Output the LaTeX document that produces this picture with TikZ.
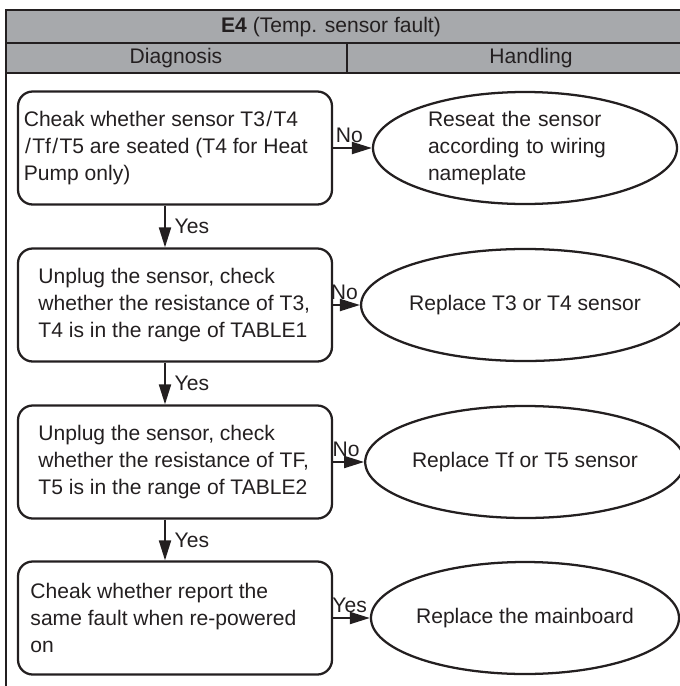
\documentclass[tikz,border=0pt]{standalone}
\usepackage{fontspec}
\setmainfont{Liberation Sans}
\usepackage{tikz}
\usetikzlibrary{arrows.meta,shapes.geometric}
\definecolor{ink}{HTML}{231F20}
\definecolor{headgray}{HTML}{A7A9AC}
\newcommand{\sensl}{\kern1pt/\kern1pt}

\begin{document}
\begin{tikzpicture}[x=0.75pt,y=-0.75pt,font=\fontsize{15.8pt}{20.5pt}\selectfont,text=ink,
  diag/.style={rectangle,rounded corners=11pt,draw=ink,line width=1.7pt,minimum width=235.5pt,minimum height=84.75pt,inner sep=0pt},
  diagtext/.style={anchor=west,align=left,inner sep=0pt},
  hand/.style={ellipse,draw=ink,line width=1.7pt,minimum width=228pt,minimum height=84pt,inner sep=0pt,align=center},
  flow/.style={-{Triangle[length=15pt,width=9pt]},draw=ink,line width=1.5pt},
  lbl/.style={inner sep=3.5pt}]
\useasboundingbox (0,0) rectangle (680,686);
% header rows
\fill[headgray] (5,10) rectangle (680,73);
\draw[ink,line width=1.6pt] (5,10) -- (680,10) (5,43) -- (680,43) (5,73) -- (680,73) (347,43) -- (347,73);
\draw[ink,line width=1.6pt] (6,10) -- (6,686);
\node (title) at (331,27) {\textbf{E4} (Temp. sensor fault)};
\node (coldiag) at (176,58) {Diagnosis};
\node (colhand) at (531,58) {Handling};
% diagnosis steps
\node[diag] (d1) at (175,148) {};
\node[diagtext] (t1) at ([xshift=5pt]d1.west) {Cheak whether sensor T3\sensl T4\\\sensl Tf\sensl T5 are seated (T4 for Heat\\Pump only)};
\node[diag] (d2) at (175,305) {};
\node[diagtext] (t2) at ([xshift=16pt]d2.west) {Unplug the sensor, check\\whether the resistance of T3,\\T4 is in the range of TABLE1};
\node[diag] (d3) at (175,462) {};
\node[diagtext] (t3) at ([xshift=16pt]d3.west) {Unplug the sensor, check\\whether the resistance of TF,\\T5 is in the range of TABLE2};
\node[diag] (d4) at (175,618) {};
\node[diagtext] (t4) at ([xshift=10pt]d4.west) {Cheak whether report the\\same fault when re-powered\\on};
% handling
\node[hand,text width=145.5pt,align=left] (h1) at (525,148) {Reseat the sensor\\according to wiring\\nameplate};
\node[hand] (h2) at (525,305) {Replace T3 or T4 sensor};
\node[hand] (h3) at (525,462) {Replace Tf or T5 sensor};
\node[hand] (h4) at (525,618) {Replace the mainboard};
% connectors
\draw[flow] (d1) -- node[lbl,above,pos=0.42] {No} (h1);
\draw[flow] (d2) -- node[lbl,above,pos=0.42] {No} (h2);
\draw[flow] (d3) -- node[lbl,above,pos=0.42] {No} (h3);
\draw[flow] (d4) -- node[lbl,above,pos=0.45] {Yes} (h4);
\draw[flow] ([xshift=-7.5pt]d1.south) -- node[lbl,right,xshift=3pt] {Yes} ([xshift=-7.5pt]d2.north);
\draw[flow] ([xshift=-7.5pt]d2.south) -- node[lbl,right,xshift=3pt] {Yes} ([xshift=-7.5pt]d3.north);
\draw[flow] ([xshift=-7.5pt]d3.south) -- node[lbl,right,xshift=3pt] {Yes} ([xshift=-7.5pt]d4.north);
\end{tikzpicture}
\end{document}
